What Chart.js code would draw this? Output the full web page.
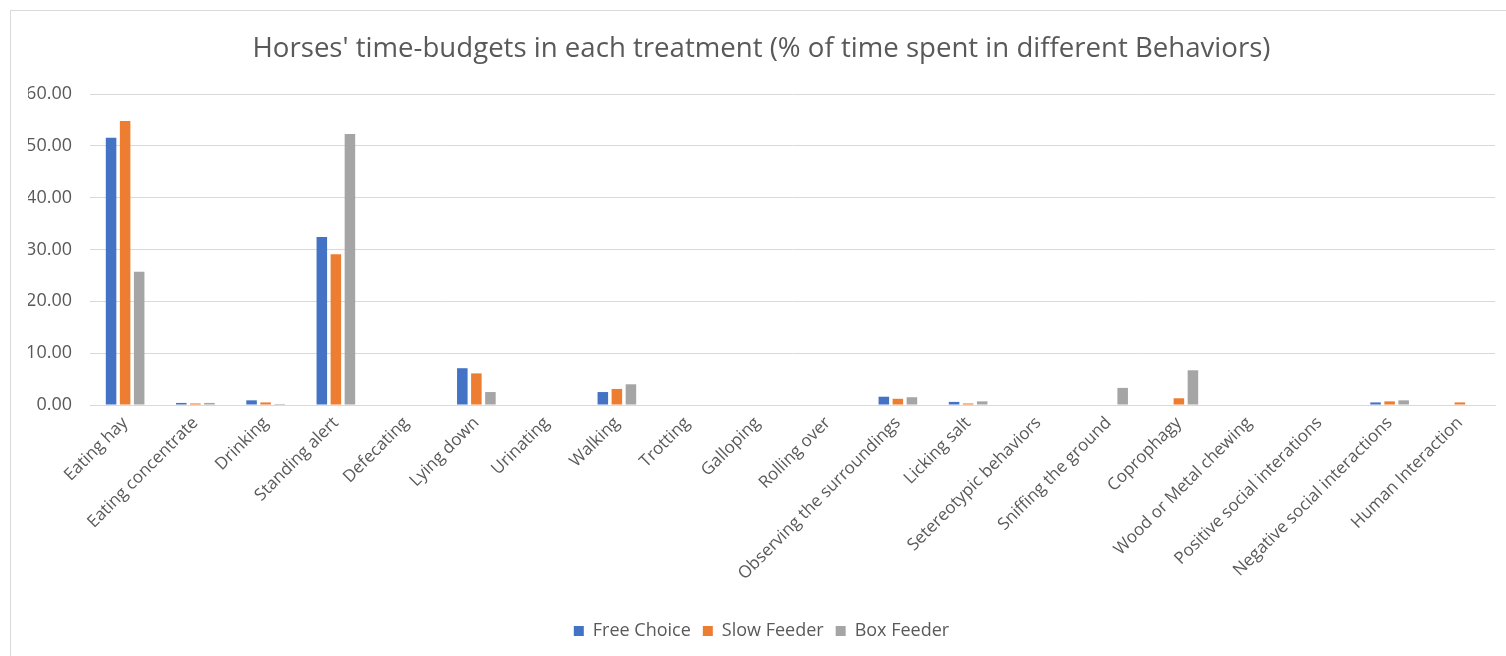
<!DOCTYPE html>
<html>
<head>
<meta charset="utf-8">
<script src="https://cdn.jsdelivr.net/npm/chart.js@4/dist/chart.umd.min.js"></script>
<style>
  html, body { margin: 0; padding: 0; background: #fff; }
  #wrap { position: relative; width: 1506px; height: 656px; overflow: hidden; }
  #frame { position: absolute; left: 10px; top: 10px; width: 1600px; height: 800px; border: 1.5px solid #d9d9d9; box-sizing: border-box; pointer-events: none; }
  canvas { position: absolute; left: 0; top: 0; }
</style>
</head>
<body>
<div id="wrap">
  <canvas id="c" width="1506" height="656"></canvas>
  <div id="frame"></div>
</div>
<script>
const categories = [
  "Eating hay", "Eating concentrate", "Drinking", "Standing alert", "Defecating",
  "Lying down", "Urinating", "Walking", "Trotting", "Galloping", "Rolling over",
  "Observing the surroundings", "Licking salt", "Setereotypic behaviors",
  "Sniffing the ground", "Coprophagy", "Wood or Metal chewing",
  "Positive social interations", "Negative social interactions", "Human Interaction"
];
const seriesNames = ["Free Choice", "Slow Feeder", "Box Feeder"];
const freeChoice = [51.6, 0.4, 0.9, 32.4, 0, 7.1, 0, 2.5, 0, 0, 0, 1.6, 0.6, 0, 0, 0, 0, 0, 0.5, 0];
const slowFeeder = [54.8, 0.3, 0.5, 29.1, 0, 6.1, 0, 3.1, 0, 0, 0, 1.2, 0.3, 0, 0, 1.3, 0, 0, 0.7, 0.5];
const boxFeeder  = [25.7, 0.4, 0.2, 52.3, 0, 2.5, 0, 4.0, 0, 0, 0, 1.5, 0.7, 0, 3.3, 6.7, 0, 0, 0.9, 0];
const yTicks = [0, 10, 20, 30, 40, 50, 60];
const colors = ["#4472C4", "#ED7D31", "#A5A5A5"];

const FONT = "'Open Sans', 'DejaVu Sans', sans-serif";
const TXT = "#595959";

new Chart(document.getElementById("c"), {
  type: "bar",
  data: {
    labels: categories,
    datasets: [freeChoice, slowFeeder, boxFeeder].map((d, i) => ({
      label: seriesNames[i],
      data: d,
      backgroundColor: colors[i],
      borderWidth: 0,
      categoryPercentage: 0.6,
      barPercentage: 0.75
    }))
  },
  options: {
    responsive: false,
    animation: false,
    devicePixelRatio: 1,
    layout: { padding: { left: 28, right: 11, top: 0, bottom: 6 } },
    plugins: {
      title: {
        display: true,
        text: "Horses' time-budgets in each treatment (% of time spent in different Behaviors)",
        color: TXT,
        font: { family: FONT, size: 27.6, weight: "normal", lineHeight: 1.2 },
        padding: { top: 33, bottom: 28 }
      },
      legend: {
        position: "bottom",
        labels: {
          color: TXT,
          font: { family: FONT, size: 18 },
          boxWidth: 10, boxHeight: 10,
          padding: 12
        }
      },
      tooltip: { enabled: false }
    },
    scales: {
      x: {
        grid: { display: false },
        border: { display: true, color: "#d9d9d9", width: 1 },
        ticks: {
          color: TXT,
          font: { family: FONT, size: 17 },
          minRotation: 45, maxRotation: 45,
          autoSkip: false,
          padding: 0
        },
        afterFit: (s) => { s.height = 205; }
      },
      y: {
        min: 0, max: 60,
        afterBuildTicks: (s) => { s.ticks = yTicks.map(v => ({ value: v })); },
        grid: { color: "#d9d9d9", drawTicks: false },
        border: { display: false },
        ticks: {
          color: TXT,
          font: { family: FONT, size: 18 },
          padding: 18,
          callback: (v) => Number(v).toFixed(2)
        },
        afterFit: (s) => { s.width = 62; }
      }
    }
  }
});
</script>
</body>
</html>
